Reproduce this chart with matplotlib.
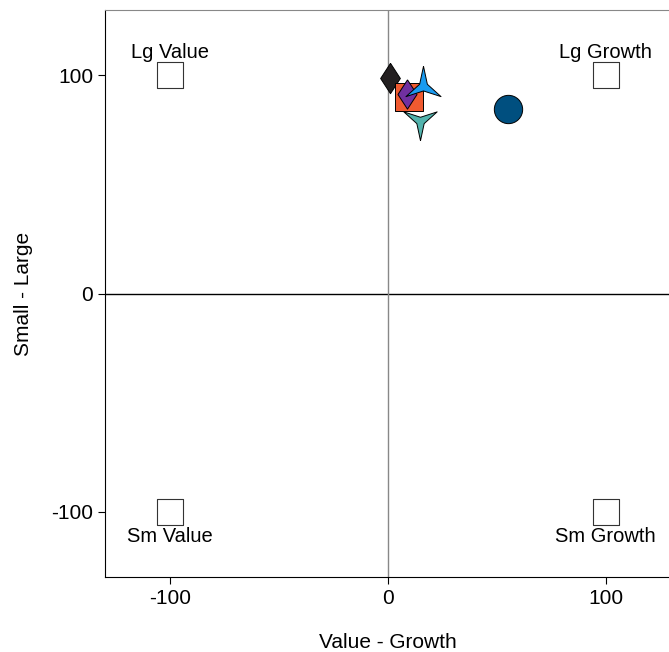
import numpy as np
import matplotlib
matplotlib.use("Agg")
import matplotlib.pyplot as plt

plt.rcParams['font.family'] = ['Liberation Sans', 'DejaVu Sans']
plt.rcParams['axes.unicode_minus'] = False

# style box corners
box_x = [-100, 100, -100, 100]
box_y = [100, 100, -100, -100]
box_labels = ["Lg Value", "Lg Growth", "Sm Value", "Sm Growth"]

# funds
fund_x = [0.9, 9.7, 8.7, 16.0, 14.7, 55.0]
fund_y = [99.0, 90.0, 91.5, 95.0, 79.0, 84.7]
fund_colors = ["#231f20", "#f05a30", "#7030a0", "#1a9bf0", "#52b3ad", "#004f7f"]

# concave 3-point star, up and down
def tri_star(flip=False):
    pts = []
    for i in range(6):
        ang = np.pi / 2 + i * np.pi / 3
        r = 1.0 if i % 2 == 0 else 0.22
        pts.append((r * np.cos(ang), r * np.sin(ang)))
    pts = np.array(pts)
    if flip:
        pts[:, 1] = -pts[:, 1]
    return np.vstack([pts, pts[:1]])

diamond = np.array([(0, 1), (0.65, 0), (0, -1), (-0.65, 0), (0, 1)])

markers = [diamond, "s", diamond, tri_star(), tri_star(True), "o"]
sizes = [30, 28, 29, 40, 38, 28]

fig = plt.figure(figsize=(6.69, 6.52), dpi=100)
ax = fig.add_axes([105 / 669, 75 / 652, 566 / 669, 567 / 652])

ax.axhline(0, color="black", lw=1, zorder=1)
ax.axvline(0, color="#888888", lw=1, zorder=1)

ax.scatter(box_x, box_y, marker="s", s=25 ** 2 * 0.53, facecolor="white",
           edgecolor="#333333", linewidth=0.8, zorder=2)
for x, y, lab in zip(box_x, box_y, box_labels):
    off = 10 if y > 0 else -11
    ax.annotate(lab, (x, y), xytext=(0, off), textcoords="offset points",
                ha="center", va="bottom" if y > 0 else "top", fontsize=14.5)

for x, y, c, m, s in zip(fund_x, fund_y, fund_colors, markers, sizes):
    ax.scatter([x], [y], marker=m, s=s ** 2 * 0.53, color=c,
               edgecolor="black", linewidth=0.7, zorder=3)

ax.set_xlim(-130, 130)
ax.set_ylim(-130, 130)
ax.set_xticks([-100, 0, 100])
ax.set_yticks([-100, 0, 100])
ax.tick_params(labelsize=15, length=5, direction="out")
ax.spines["right"].set_visible(False)
ax.spines["top"].set_color("#888888")
ax.set_xlabel("Value - Growth", fontsize=15, labelpad=18)
ax.set_ylabel("Small - Large", fontsize=15, labelpad=13)

fig.savefig("out.png", dpi=100)
